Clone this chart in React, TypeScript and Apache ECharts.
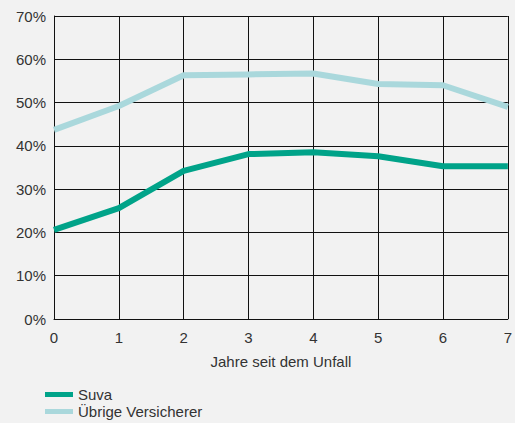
import React, { useEffect, useRef } from "react";
import * as echarts from "echarts";

const years = ["0", "1", "2", "3", "4", "5", "6", "7"];
const suva = [20.6, 25.6, 34.2, 38.1, 38.5, 37.6, 35.3, 35.3];
const uebrige = [43.7, 49.2, 56.3, 56.5, 56.7, 54.3, 54.0, 49.0];
const seriesNames = ["Suva", "Übrige Versicherer"];

export default function App() {
  const ref = useRef<HTMLDivElement>(null);
  useEffect(() => {
    if (!ref.current) return;
    const chart = echarts.init(ref.current, undefined, { renderer: "svg" });
    const font = "'Liberation Sans', Arial, sans-serif";
    const legendBase = {
      orient: "horizontal",
      left: 40,
      itemWidth: 28,
      itemHeight: 5,
      itemGap: 8,
      icon: "rect",
      textStyle: { fontSize: 15, color: "#333", fontFamily: font },
    };
    chart.setOption({
      animation: false,
      backgroundColor: "#f2f2f2",
      textStyle: { fontFamily: font },
      grid: { left: 54, right: 7, top: 16, bottom: 104 },
      legend: [
        { ...legendBase, top: 382, data: [seriesNames[0]] },
        { ...legendBase, top: 399, data: [seriesNames[1]] },
      ],
      xAxis: {
        type: "category",
        data: years,
        boundaryGap: false,
        name: "Jahre seit dem Unfall",
        nameLocation: "middle",
        nameGap: 35,
        nameTextStyle: { fontSize: 15, color: "#333", fontFamily: font },
        axisLine: { lineStyle: { color: "#111", width: 1 } },
        axisTick: { show: false },
        axisLabel: { fontSize: 15, color: "#333", margin: 11 },
        splitLine: { show: true, lineStyle: { color: "#111", width: 1 } },
      },
      yAxis: {
        type: "value",
        min: 0,
        max: 70,
        interval: 10,
        axisLine: { show: true, lineStyle: { color: "#111", width: 1 } },
        axisTick: { show: false },
        axisLabel: { fontSize: 15, color: "#333", margin: 8, formatter: "{value}%" },
        splitLine: { show: true, lineStyle: { color: "#111", width: 1 } },
      },
      series: [
        {
          name: seriesNames[0],
          type: "line",
          data: suva,
          showSymbol: false,
          symbol: "none",
          lineStyle: { color: "#00a389", width: 6 },
          itemStyle: { color: "#00a389" },
        },
        {
          name: seriesNames[1],
          type: "line",
          data: uebrige,
          showSymbol: false,
          symbol: "none",
          lineStyle: { color: "#aad8dc", width: 6 },
          itemStyle: { color: "#aad8dc" },
        },
      ],
    });
    return () => chart.dispose();
  }, []);
  return (
    <div
      ref={ref}
      style={{ position: "fixed", left: 0, top: 0, width: 515, height: 423 }}
    />
  );
}
